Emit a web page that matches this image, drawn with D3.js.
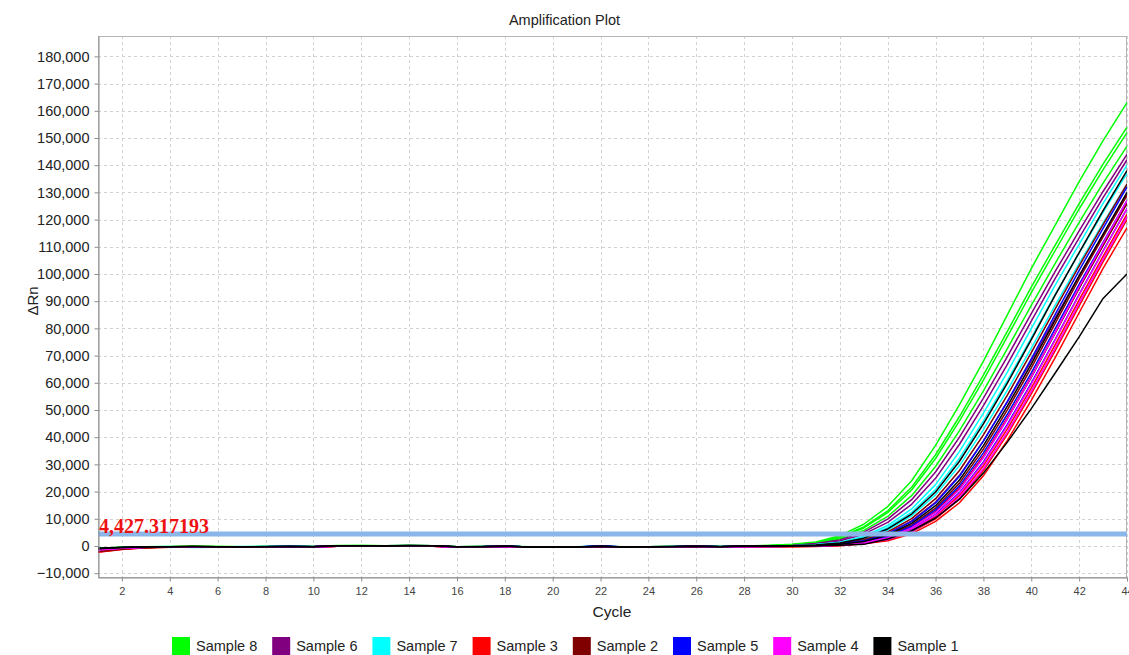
<!DOCTYPE html>
<html>
<head>
<meta charset="utf-8">
<title>Amplification Plot</title>
<script src="https://cdn.jsdelivr.net/npm/d3@7"></script>
<style>
  html, body { margin: 0; padding: 0; background: #ffffff; }
  svg { display: block; font-family: "Liberation Sans", Arial, sans-serif; }
</style>
</head>
<body>
<svg id="chart" width="1129" height="655"></svg>
<script>
// ---- Data -------------------------------------------------------------
const cycles = [1,2,3,4,5,6,7,8,9,10,11,12,13,14,15,16,17,18,19,20,21,22,
                23,24,25,26,27,28,29,30,31,32,33,34,35,36,37,38,39,40,41,42,43,44];

const sampleNames = ["Sample 8", "Sample 6", "Sample 7", "Sample 3",
                     "Sample 2", "Sample 5", "Sample 4", "Sample 1"];

// ΔRn per cycle, one row per well
const sample8 = [
  [-900,-500,-300,-200,-150,-200,-300,-200,-150,-200,100,150,50,150,100,-300,-200,-50,-350,-350,-350,-100,-350,-300,-200,-50,-200,0,200,600,1500,3800,8000,14500,24000,37000,52000,68000,85000,102000,118000,134000,149000,163000],
  [-1000,-600,-350,-250,-200,-250,-300,-250,-200,-250,50,100,0,100,50,-350,-250,-100,-400,-400,-350,-150,-400,-350,-250,-100,-250,-50,150,490,1300,3300,7050,12950,21600,33550,47600,62800,78900,95200,110600,125900,140400,154000],
  [-800,-450,-300,-250,-100,-150,-250,-200,-100,-200,150,150,50,200,100,-250,-200,-50,-300,-350,-300,-100,-300,-300,-150,0,-200,0,100,430,1215,3070,6620,12270,20600,32160,45980,61000,76950,93150,108640,123900,138400,152000],
  [-1100,-650,-400,-300,-200,-250,-350,-250,-200,-250,50,100,0,100,50,-350,-300,-100,-400,-400,-400,-150,-400,-350,-250,-100,-250,-50,50,310,1030,2590,5730,10860,18500,29220,42440,57030,72550,88500,103930,118940,133430,147000]
];
const sample6 = [
  [-1300,-700,-400,-300,-250,-300,-350,-250,-200,-250,0,100,0,100,50,-350,-250,-100,-400,-450,-400,-150,-400,-400,-250,-100,-300,-100,0,220,890,2250,5100,9870,17040,27190,40030,54370,69640,85470,100920,115820,130340,144000],
  [-1200,-700,-450,-300,-250,-300,-400,-300,-200,-300,0,50,-50,50,0,-400,-300,-150,-450,-400,-400,-200,-450,-350,-300,-150,-300,-100,-50,110,730,1830,4340,8700,15330,24870,37400,51610,66760,82650,98360,113320,128100,142000],
  [-1400,-800,-450,-350,-250,-350,-400,-300,-250,-300,0,50,-50,50,0,-400,-300,-150,-450,-450,-450,-200,-450,-400,-300,-150,-300,-150,-100,50,170,810,2040,4710,9260,16150,25970,38640,52880,68060,83880,99430,114330,129000]
];
const sample7 = [
  [-1000,-600,-350,-250,-600,-500,-300,-200,-150,-250,50,100,0,100,50,-300,-250,-100,-350,-400,-350,-100,-400,-350,-200,-50,-250,-50,0,100,560,1410,3570,7520,13630,22560,34780,48880,63920,79900,95880,110920,125960,140000],
  [-900,-550,-300,-200,-500,-400,-200,-150,-100,-200,100,100,50,150,50,-300,-200,-50,-350,-350,-300,-100,-350,-300,-200,-50,-200,0,0,50,450,1240,3130,6720,12380,20730,32270,45960,60780,76540,92490,107680,122690,137000],
  [-1100,-650,-400,-300,-250,-300,-300,-250,-200,-250,0,100,0,100,0,-350,-250,-100,-400,-400,-400,-150,-400,-350,-250,-100,-250,-100,-50,0,330,1060,2680,5880,11070,18790,29570,42780,57290,72730,88540,103790,118670,133000]
];
const sample3 = [
  [-2000,-1100,-600,-400,-300,-350,-400,-300,-250,-300,-50,0,-50,50,0,-400,-300,-150,-450,-450,-450,-200,-450,-400,-450,-400,-350,-150,-150,-100,50,460,1270,3220,6900,12710,21280,33130,47190,62400,78580,94950,110550,126000],
  [-2200,-1200,-650,-450,-350,-400,-450,-350,-300,-350,-100,-50,-100,0,-50,-450,-350,-200,-500,-500,-500,-250,-500,-450,-500,-450,-400,-200,-200,-150,-50,290,1020,2570,5710,10890,18630,29520,43080,58080,74050,90510,106480,122000],
  [-2100,-1150,-600,-400,-300,-350,-400,-300,-250,-300,-50,0,-50,50,0,-400,-300,-150,-450,-450,-450,-200,-450,-400,-450,-450,-350,-150,-250,-200,-100,200,890,2240,5120,9980,17310,27720,41020,55930,71800,88310,104480,120000],
  [-2300,-1250,-650,-450,-350,-400,-450,-350,-300,-350,-100,-50,-100,0,-50,-450,-350,-200,-500,-500,-500,-250,-500,-450,-500,-450,-400,-200,-300,-250,-150,100,780,1940,4460,9020,15910,25800,38800,53540,69260,85750,102040,117000]
];
const sample2 = [
  [-1900,-1000,-550,-400,-300,-350,-400,-300,-250,-300,0,50,-50,50,0,-400,-300,-150,-450,-450,-450,-200,-450,-400,-300,-150,-300,-150,-100,50,230,910,2300,5210,10070,17390,27740,40850,55480,71060,87210,102980,118180,133000],
  [-2000,-1100,-600,-400,-300,-350,-450,-350,-250,-350,-50,0,-100,0,-50,-450,-350,-200,-500,-500,-450,-250,-500,-450,-300,-150,-350,-150,-150,-50,100,580,1440,3660,7700,13960,23110,35630,50080,65480,81860,98230,113630,129000],
  [-1800,-1000,-550,-400,-300,-350,-400,-300,-250,-300,0,50,-50,50,0,-400,-300,-150,-450,-450,-450,-200,-450,-400,-300,-150,-300,-100,-100,-50,50,440,1240,3130,6730,12480,20960,32700,46750,62020,78250,94720,110470,126000]
];
const sample5 = [
  [-1100,-650,-400,-300,-250,-300,-350,-250,-200,-250,50,100,0,100,50,-350,-250,-100,-400,-400,-400,100,-400,-350,-250,-100,-250,-50,-50,0,120,750,1890,4470,8960,15800,25630,38540,53190,68790,85170,101360,116780,132000],
  [-1200,-700,-400,-300,-250,-300,-350,-300,-200,-300,0,100,-50,100,0,-350,-300,-100,-400,-400,-400,0,-400,-350,-250,-100,-300,-100,-100,-50,50,520,1350,3420,7270,13280,22100,34240,48430,63680,79880,96190,111630,127000],
  [-1300,-750,-450,-300,-250,-300,-400,-300,-200,-300,0,50,-50,50,0,-400,-300,-150,-450,-450,-400,-50,-450,-400,-300,-150,-300,-100,-150,-50,0,350,1110,2800,6140,11570,19630,30910,44710,59880,76010,92530,108480,124000]
];
const sample4 = [
  [-1300,-750,-450,-350,-300,-350,-400,-300,-250,-300,0,50,-50,50,0,-400,-400,-250,-450,-450,-450,-200,-500,-450,-350,-150,-300,-150,-100,-50,50,410,1210,3060,6630,12340,20790,32540,46690,62130,78540,95250,111280,127000],
  [-1400,-800,-450,-350,-300,-350,-400,-300,-250,-300,-50,0,-50,50,0,-400,-350,-200,-450,-500,-450,-200,-450,-450,-300,-150,-350,-150,-150,-100,0,320,1070,2700,5980,11320,19290,30460,44250,59460,75650,92270,108360,124000],
  [-1500,-850,-500,-350,-300,-350,-450,-350,-250,-350,-50,0,-100,0,-50,-450,-350,-200,-500,-500,-450,-250,-500,-450,-350,-200,-350,-150,-200,-100,-50,230,930,2350,5330,10310,17810,28410,41840,56820,72780,89320,105470,121000]
];
const sample1 = [
  [-800,-500,-300,-250,-200,-250,-300,-200,-150,-200,100,100,50,150,100,-300,-200,-50,-350,-350,-350,-100,-350,-300,-200,-50,-200,0,0,100,370,1140,2880,6270,11740,19850,31150,44880,59900,75890,92210,107900,123260,138000],
  [-900,-550,-350,-250,-200,-250,-350,-250,-150,-250,50,100,0,150,100,-300,-250,-50,-400,-400,-350,-100,-400,-300,-200,-50,-250,0,-50,0,60,660,1660,4050,8300,14820,24260,36920,51400,66840,83150,99350,114700,130000],
  [-1000,-600,-350,-250,-200,-300,-300,-250,-200,-250,50,100,0,100,50,-300,-250,-100,-400,-400,-400,-150,-400,-350,-250,-100,-250,-50,-100,0,100,300,600,2600,5600,10300,17200,26800,38200,50500,63600,76900,91000,100000]
];

const threshold = 4427.317193;

const yTicks = [-10000,0,10000,20000,30000,40000,50000,60000,70000,80000,90000,
                100000,110000,120000,130000,140000,150000,160000,170000,180000];
const xTicks = [2,4,6,8,10,12,14,16,18,20,22,24,26,28,30,32,34,36,38,40,42,44];

// ---- Chart ------------------------------------------------------------
const svg = d3.select("#chart");
const plot = { left: 98, right: 1127, top: 36, bottom: 577 };

const x = d3.scaleLinear().domain([1, 44]).range([plot.left, plot.right]);
const y = d3.scaleLinear().domain([-11400, 187500]).range([plot.bottom, plot.top]);

const color = d3.scaleOrdinal()
  .domain(sampleNames)
  .range(["#00ff00", "#800080", "#00ffff", "#ff0000",
          "#800000", "#0000ff", "#ff00ff", "#000000"]);

const wellsBySample = [sample8, sample6, sample7, sample3, sample2, sample5, sample4, sample1];

// title
svg.append("text")
  .attr("x", 564.5).attr("y", 25)
  .attr("text-anchor", "middle")
  .attr("font-size", "14.5px")
  .attr("fill", "#222")
  .text("Amplification Plot");

// dashed grid
const grid = svg.append("g").attr("stroke", "#d2d2d2").attr("stroke-dasharray", "3,3").attr("stroke-width", 1);
grid.selectAll("line.h").data(yTicks).join("line")
  .attr("class", "h")
  .attr("x1", plot.left).attr("x2", plot.right)
  .attr("y1", d => Math.round(y(d)) + 0.5).attr("y2", d => Math.round(y(d)) + 0.5);
grid.selectAll("line.v").data(xTicks).join("line")
  .attr("class", "v")
  .attr("y1", plot.top).attr("y2", plot.bottom)
  .attr("x1", d => Math.round(x(d)) + 0.5).attr("x2", d => Math.round(x(d)) + 0.5);

// plot frame
svg.append("rect")
  .attr("x", plot.left + 0.5).attr("y", plot.top + 0.5)
  .attr("width", plot.right - plot.left - 1).attr("height", plot.bottom - plot.top)
  .attr("fill", "none").attr("stroke", "#b4b4b4");

// amplification curves
const clip = svg.append("clipPath").attr("id", "plotClip")
  .append("rect")
  .attr("x", plot.left).attr("y", plot.top)
  .attr("width", plot.right - plot.left).attr("height", plot.bottom - plot.top);

const line = d3.line()
  .x((d, i) => x(cycles[i]))
  .y(d => y(d));

const curves = svg.append("g").attr("clip-path", "url(#plotClip)");
sampleNames.forEach((name, si) => {
  curves.append("g")
    .selectAll("path")
    .data(wellsBySample[si])
    .join("path")
    .attr("d", line)
    .attr("fill", "none")
    .attr("stroke", color(name))
    .attr("stroke-width", 1.5)
    .attr("stroke-linejoin", "round");
});

// threshold
svg.append("line")
  .attr("x1", plot.left).attr("x2", plot.right)
  .attr("y1", y(threshold)).attr("y2", y(threshold))
  .attr("stroke", "#8ab6ea")
  .attr("stroke-width", 5);

svg.append("text")
  .attr("x", plot.left + 1).attr("y", y(threshold) - 1)
  .attr("font-family", "'Liberation Serif', 'Times New Roman', serif")
  .attr("font-weight", "bold")
  .attr("font-size", "20px")
  .attr("fill", "#ee1111")
  .text(d3.format(",.6f")(threshold));

// axes
const yAxis = svg.append("g")
  .attr("transform", `translate(${plot.left + 0.5},0)`)
  .call(d3.axisLeft(y).tickValues(yTicks).tickFormat(d3.format(",")).tickSize(4).tickSizeOuter(0).tickPadding(5));
yAxis.select(".domain").attr("stroke", "#8c8c8c");
yAxis.selectAll(".tick line").attr("stroke", "#8c8c8c");
yAxis.selectAll("text")
  .attr("font-family", "'Liberation Sans', Arial, sans-serif")
  .attr("font-size", "14.5px").attr("fill", "#222");

const xAxis = svg.append("g")
  .attr("transform", `translate(0,${plot.bottom + 0.5})`)
  .call(d3.axisBottom(x).tickValues(xTicks).tickSize(4).tickSizeOuter(0).tickPadding(6));
xAxis.select(".domain").attr("stroke", "#8c8c8c");
xAxis.selectAll(".tick line").attr("stroke", "#8c8c8c");
xAxis.selectAll("text")
  .attr("font-family", "'Liberation Sans', Arial, sans-serif")
  .attr("font-size", "11px").attr("fill", "#444");

// axis titles
svg.append("text")
  .attr("x", 612).attr("y", 617)
  .attr("text-anchor", "middle")
  .attr("font-size", "15.5px").attr("fill", "#222")
  .text("Cycle");

svg.append("text")
  .attr("transform", "translate(38,301) rotate(-90)")
  .attr("text-anchor", "middle")
  .attr("font-size", "15px").attr("fill", "#222")
  .text("ΔRn");

// legend
const legend = svg.append("g").attr("transform", "translate(172,637)");
const item = legend.selectAll("g").data(sampleNames).join("g")
  .attr("transform", (d, i) => `translate(${i * 100.2},0)`);
item.append("rect")
  .attr("width", 18).attr("height", 18)
  .attr("fill", d => color(d));
item.append("text")
  .attr("x", 24).attr("y", 14)
  .attr("font-size", "14.5px").attr("fill", "#222")
  .text(d => d);
</script>
</body>
</html>
